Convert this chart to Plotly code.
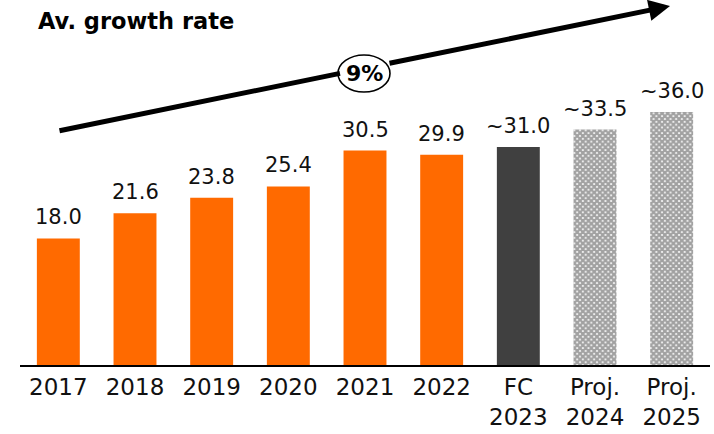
import plotly.graph_objects as go

categories = ["2017", "2018", "2019", "2020", "2021", "2022", "FC<br>2023", "Proj.<br>2024", "Proj.<br>2025"]
values = [18.0, 21.6, 23.8, 25.4, 30.5, 29.9, 31.0, 33.5, 36.0]
labels = ["18.0", "21.6", "23.8", "25.4", "30.5", "29.9", "~31.0", "~33.5", "~36.0"]
kinds = ["actual"] * 6 + ["forecast"] + ["projection"] * 2
growth_label = "9%"
title_text = "Av. growth rate"

ORANGE = "#FF6A00"
DARK = "#404040"
FONT = "DejaVu Sans, Verdana, sans-serif"

colors = []
patterns = []
for k in kinds:
    if k == "actual":
        colors.append(ORANGE)
        patterns.append("")
    elif k == "forecast":
        colors.append(DARK)
        patterns.append("")
    else:
        colors.append("white")
        patterns.append("x")

fig = go.Figure()
fig.add_trace(go.Bar(
    x=categories, y=values,
    marker=dict(
        color=colors,
        line=dict(width=0),
        pattern=dict(shape=patterns, fgcolor="black", bgcolor="white",
                     size=4, solidity=0.8, fillmode="overlay"),
    ),
    width=0.56,
    hoverinfo="skip",
))

annotations = []
# category axis: annotation x given as the category's index
for i, (v, t) in enumerate(zip(values, labels)):
    annotations.append(dict(
        x=i, y=v, xref="x", yref="y", text=t, showarrow=False,
        xanchor="center", yanchor="bottom", yshift=7,
        font=dict(family=FONT, size=21, color="#111111"),
    ))

# plot area pixel geometry: x 20..710, y 20..365
W, H0, T = 690, 345, 20
def px(x):
    return (x - 20) / W
def py(y):
    return (365 - y) / H0

# trend arrow, split around the growth-rate ellipse
annotations.append(dict(
    x=px(340), y=py(73.4), xref="paper", yref="paper",
    ax=58 - 340, ay=131 - 73.4, axref="pixel", ayref="pixel",
    showarrow=True, arrowhead=0, arrowwidth=5, arrowcolor="black",
    text="",
))
annotations.append(dict(
    x=px(670), y=py(6), xref="paper", yref="paper",
    ax=388 - 670, ay=63.6 - 6, axref="pixel", ayref="pixel",
    showarrow=True, arrowhead=2, arrowsize=0.85, arrowwidth=5, arrowcolor="black",
    text="",
))
annotations.append(dict(
    x=px(364), y=py(73), xref="paper", yref="paper",
    text="<b>" + growth_label + "</b>", showarrow=False,
    xanchor="center", yanchor="middle",
    font=dict(family=FONT, size=22, color="black"),
))
annotations.append(dict(
    x=px(36), y=py(21), xref="paper", yref="paper",
    text="<b>" + title_text + "</b>", showarrow=False, xanchor="left", yanchor="middle",
    font=dict(family=FONT, size=22.5, color="black"),
))

shapes = [dict(
    type="circle", xref="paper", yref="paper",
    x0=px(338), x1=px(390), y0=py(92), y1=py(55),
    fillcolor="white", line=dict(color="black", width=1.6), layer="below",
)]

fig.update_layout(
    width=714, height=434,
    margin=dict(l=20, r=4, t=T, b=69),
    paper_bgcolor="white", plot_bgcolor="white",
    showlegend=False,
    annotations=annotations,
    shapes=shapes,
    xaxis=dict(
        type="category", range=[-0.5, len(categories) - 0.5], autorange=False,
        showline=True, linecolor="black", linewidth=2,
        tickfont=dict(family=FONT, size=23, color="#111111"),
        ticks="", showgrid=False, zeroline=False,
    ),
    yaxis=dict(visible=False, range=[0, H0 / 7.03], showgrid=False, zeroline=False),
)

fig.write_html("out.html", config={"displayModeBar": False},
               post_script="document.body.style.margin='0';")
